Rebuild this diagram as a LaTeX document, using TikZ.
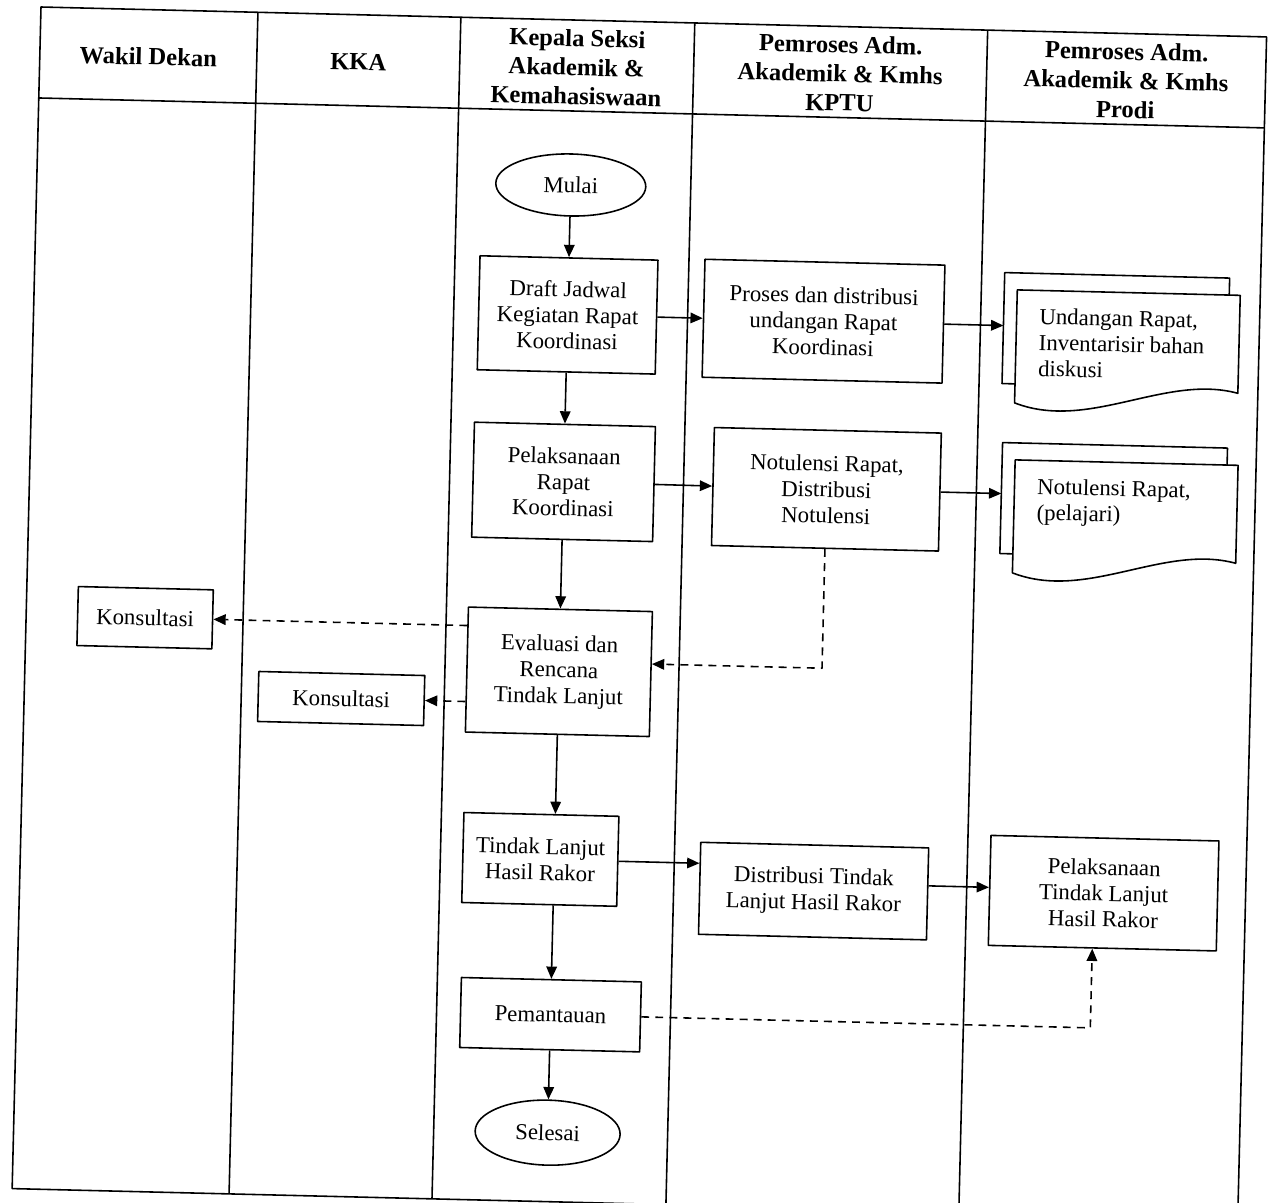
\documentclass[tikz,border=0pt]{standalone}
\usepackage{fontspec}
\setmainfont{Liberation Serif}
\usetikzlibrary{shapes.geometric,arrows.meta}
\newcommand{\unitpx}{0.02cm}
\begin{document}
\begin{tikzpicture}[x=0.02cm, y=-0.02cm, line join=round, line width=0.9pt,
  >={Triangle[length=7pt,width=6pt]}, font=\fontsize{13}{14.8}\selectfont,
  lane/.style={font=\fontsize{14}{16.5}\selectfont\bfseries, align=center},
  box/.style 2 args={draw, rectangle, align=center, inner sep=0pt, minimum width=#1*\unitpx, minimum height=#2*\unitpx},
  term/.style 2 args={draw, ellipse, inner sep=0pt, minimum width=#1*\unitpx, minimum height=#2*\unitpx},
  doc/.style={anchor=north west, align=left, inner xsep=22*\unitpx, inner ysep=17*\unitpx},
  feedback/.style={->, dash pattern=on 4.5pt off 3.5pt}]
\useasboundingbox (0,0) rectangle (1271,1203);
\begin{scope}[shift={(41,7)}, rotate=-1.4, transform shape]
% lanes
\draw (0,0) rectangle (1226,1182);
\draw (0,91) -- (1226,91);
\foreach \xx in {217,420,654,947} \draw (\xx,0) -- (\xx,1182);
\foreach \xx/\txt [count=\i] in {108.5/Wakil Dekan, 318.5/KKA, 537/{Kepala Seksi\\Akademik \&\\Kemahasiswaan},
  800.5/{Pemroses Adm.\\Akademik \& Kmhs\\KPTU}, 1086.5/{Pemroses Adm.\\Akademik \& Kmhs\\Prodi}}
  \node[lane] (lane\i) at (\xx,47) {\txt};
% steps
\node[term={150}{62}] (mulai) at (534,165) {Mulai};
\node[box={178}{114}] (draft) at (534,295) {Draft Jadwal\\Kegiatan Rapat\\Koordinasi};
\node[box={240}{118}] (proses) at (790,295) {Proses dan distribusi\\undangan Rapat\\Koordinasi};
\node[box={181}{115}] (pelaksanaan) at (534,462) {Pelaksanaan\\Rapat\\Koordinasi};
\node[box={227}{118}] (notulensi) at (797,463) {Notulensi Rapat,\\Distribusi\\Notulensi};
\node[box={184}{125}] (evaluasi) at (534,652) {Evaluasi dan\\Rencana\\Tindak Lanjut};
\node[box={135}{59}] (konsul1) at (119,608) {Konsultasi};
\node[box={166}{50}] (konsul2) at (317,684) {Konsultasi};
\node[box={155}{90}] (tindak) at (520,840) {Tindak Lanjut\\Hasil Rakor};
\node[box={228}{92}] (distribusi) at (794,865) {Distribusi Tindak\\Lanjut Hasil Rakor};
\node[box={228}{110}] (pelTL) at (1084,860) {Pelaksanaan\\Tindak Lanjut\\Hasil Rakor};
\node[box={180}{70}] (pemantauan) at (534,995) {Pemantauan};
\node[term={145}{65}] (selesai) at (534,1113) {Selesai};
% documents
\node[doc] (undangan) at (983,259) {Undangan Rapat,\\Inventarisir bahan\\diskusi};
\node[doc] (notdoc) at (985,429) {Notulensi Rapat,\\(pelajari)};
\foreach \d in {undangan,notdoc} {
  \draw (\d.north west) -- ([shift={(223,0)}]\d.north west) -- ([shift={(223,98)}]\d.north west)
    .. controls ([shift={(150,80)}]\d.north west) and ([shift={(75,140)}]\d.north west) .. ([shift={(0,113)}]\d.north west) -- cycle;
  \draw ([shift={(0,94)}]\d.north west) -- ([shift={(-13,94)}]\d.north west) -- ([shift={(-13,-17)}]\d.north west)
    -- ([shift={(212,-17)}]\d.north west) -- ([shift={(212,0)}]\d.north west);
  \coordinate (\d-in) at ([shift={(-13,38)}]\d.north west);
}
% flow
\draw[->] (mulai) -- (draft);
\draw[->] (draft) -- (proses);
\draw[->] (proses.east) -- (proses.east -| undangan-in);
\draw[->] (draft) -- (pelaksanaan);
\draw[->] (pelaksanaan) -- (notulensi);
\draw[->] (notulensi.east) -- (notulensi.east -| notdoc-in);
\draw[->] (pelaksanaan) -- (evaluasi);
\draw[feedback] (notulensi.south) |- ([shift={(0,-10)}]evaluasi.east);
\draw[feedback] (evaluasi.west |- konsul1) -- (konsul1.east);
\draw[feedback] (evaluasi.west |- konsul2) -- (konsul2.east);
\draw[->] (evaluasi.south) -- (evaluasi.south |- tindak.north);
\draw[->] (tindak.east) -- (tindak.east -| distribusi.west);
\draw[->] ([shift={(0,-8)}]distribusi.east) -- ([shift={(0,-8)}]distribusi.east -| pelTL.west);
\draw[->] (tindak.south -| evaluasi.south) -- (pemantauan.north);
\draw[feedback] (pemantauan.east) -| ([shift={(-10,0)}]pelTL.south);
\draw[->] (pemantauan) -- (selesai);
\end{scope}
\end{tikzpicture}
\end{document}
